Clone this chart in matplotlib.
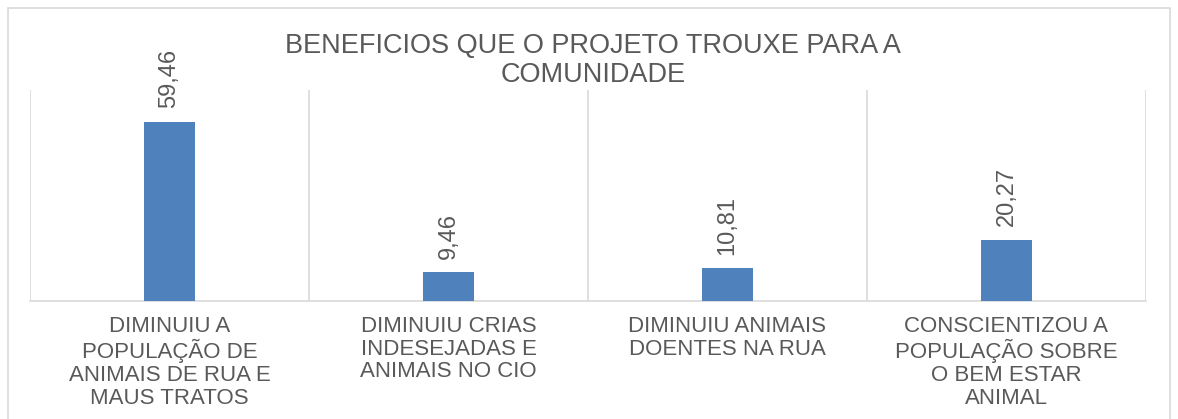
import matplotlib
matplotlib.use("Agg")
import matplotlib.pyplot as plt
from matplotlib.patches import Rectangle

categories = [
    "DIMINUIU A\nPOPULAÇÃO DE\nANIMAIS DE RUA E\nMAUS TRATOS",
    "DIMINUIU CRIAS\nINDESEJADAS E\nANIMAIS NO CIO",
    "DIMINUIU ANIMAIS\nDOENTES NA RUA",
    "CONSCIENTIZOU A\nPOPULAÇÃO SOBRE\nO BEM ESTAR\nANIMAL",
]
values = [59.46, 9.46, 10.81, 20.27]
value_labels = ["59,46", "9,46", "10,81", "20,27"]
title = "BENEFICIOS QUE O PROJETO TROUXE PARA A\nCOMUNIDADE"

W, H = 1178, 419
TXT = "#595959"
GRID = "#D9D9D9"
BAR = "#4F81BD"
plt.rcParams["font.family"] = ["Liberation Sans", "DejaVu Sans"]

fig = plt.figure(figsize=(W / 100, H / 100), dpi=100)
fig.patch.set_facecolor("white")
# outer chart border
fig.add_artist(Rectangle((8 / W, -0.05), (1170 - 8) / W, (H - 8) / H + 0.05,
                         transform=fig.transFigure, fill=False,
                         edgecolor=GRID, linewidth=1.2))

ax = fig.add_axes([30 / W, (H - 301) / H, (1146 - 30) / W, (301 - 90) / H])
x = list(range(len(values)))
ax.bar(x, values, width=0.18, color=BAR, zorder=3)
ax.set_xlim(-0.5, len(values) - 0.5)
ax.set_ylim(0, 70)
ax.set_yticks([])
ax.set_xticks(x)
ax.set_xticklabels(categories, fontsize=16, color=TXT, linespacing=1.1,
                   multialignment="center", va="top")
ax.tick_params(axis="x", length=0, pad=11)
ax.set_xticks([i - 0.5 for i in range(len(values) + 1)], minor=True)
ax.tick_params(axis="x", which="minor", length=0)
ax.grid(axis="x", which="minor", color=GRID, linewidth=1.2, zorder=0)
for s in ["top", "left", "right"]:
    ax.spines[s].set_visible(False)
ax.spines["bottom"].set_color(GRID)
ax.spines["bottom"].set_linewidth(1.2)

for xi, v, lab in zip(x, values, value_labels):
    ax.annotate(lab, (xi, v), xytext=(0, 10), textcoords="offset points",
                rotation=90, ha="center", va="bottom", fontsize=17, color=TXT)

fig.text(593 / W, 1 - 61 / H, title, ha="center", va="center", fontsize=19.5,
         color=TXT, linespacing=1.15)

fig.savefig("out.png", dpi=100)
